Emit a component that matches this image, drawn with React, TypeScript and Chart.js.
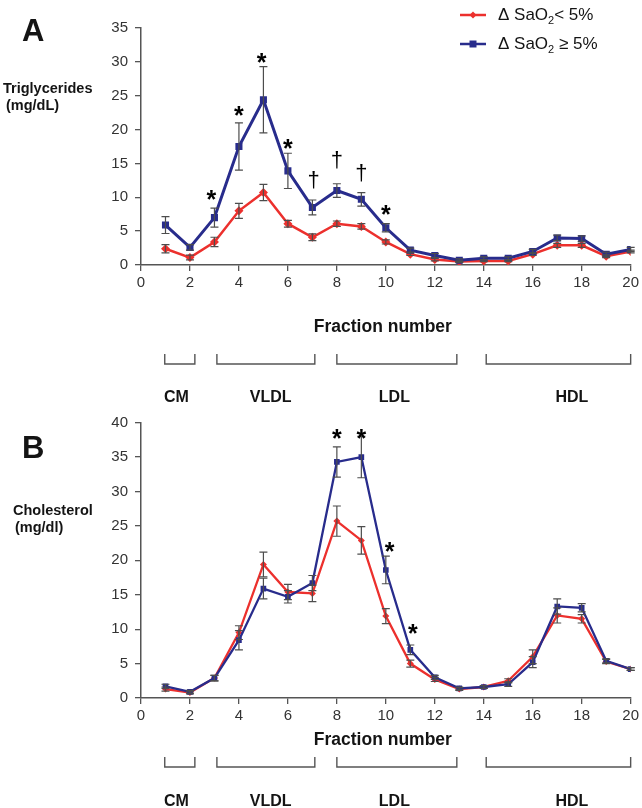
import React, { useEffect, useRef } from "react";
import { Chart, registerables } from "chart.js";

Chart.register(...registerables);

// ---------- data ----------
const fractions = [1, 2, 3, 4, 5, 6, 7, 8, 9, 10, 11, 12, 13, 14, 15, 16, 17, 18, 19, 20];
const xTickValues = [0, 2, 4, 6, 8, 10, 12, 14, 16, 18, 20];

const seriesNames = ["\u0394 SaO2< 5%", "\u0394 SaO2 \u2265 5%"];

// Panel A: triglycerides (mg/dL)
const tgLow = [2.4, 1.1, 3.4, 8.0, 10.7, 6.1, 4.1, 6.1, 5.7, 3.4, 1.6, 0.8, 0.5, 0.6, 0.6, 1.6, 2.9, 2.9, 1.3, 2.0];
const tgLowErr = [0.6, 0.35, 0.7, 1.1, 1.2, 0.5, 0.5, 0.4, 0.4, 0.3, 0.2, 0.2, 0.1, 0.1, 0.1, 0.2, 0.3, 0.3, 0.2, 0.2];
const tgHigh = [5.9, 2.6, 7.0, 17.5, 24.4, 13.9, 8.5, 11.0, 9.7, 5.5, 2.2, 1.4, 0.7, 1.0, 1.0, 2.0, 4.0, 3.9, 1.6, 2.3];
const tgHighErr = [1.25, 0.4, 1.4, 3.5, 4.9, 2.6, 1.1, 1.0, 1.0, 0.6, 0.3, 0.3, 0.2, 0.2, 0.2, 0.3, 0.4, 0.4, 0.3, 0.3];
const tgYTicks = [0, 5, 10, 15, 20, 25, 30, 35];
const tgMarkX = [2.87, 4, 4.93, 6, 7.05, 8, 9, 10];
const tgMarkY = [10.4, 22.7, 30.6, 17.8, 12.6, 15.5, 13.6, 8.1];
const tgMarkSymbols = ["*", "*", "*", "*", "\u2020", "\u2020", "\u2020", "*"];

// Panel B: cholesterol (mg/dl)
const cholLow = [1.3, 0.8, 2.9, 9.5, 19.4, 15.4, 15.2, 25.7, 22.9, 11.9, 5.0, 2.7, 1.3, 1.6, 2.5, 6.0, 12.0, 11.5, 5.3, 4.2];
const cholLowErr = [0.3, 0.2, 0.4, 1.0, 1.8, 1.1, 1.2, 2.2, 2.0, 1.1, 0.5, 0.3, 0.2, 0.2, 0.3, 1.0, 1.1, 0.6, 0.3, 0.2];
const cholHigh = [1.7, 0.9, 2.9, 8.4, 15.9, 14.7, 16.7, 34.3, 35.0, 18.6, 7.0, 3.0, 1.4, 1.6, 2.0, 5.2, 13.3, 13.1, 5.4, 4.2];
const cholHighErr = [0.3, 0.2, 0.4, 1.4, 1.5, 0.9, 1.1, 2.2, 3.0, 2.0, 0.7, 0.3, 0.2, 0.2, 0.3, 0.8, 1.1, 0.6, 0.3, 0.2];
const cholYTicks = [0, 5, 10, 15, 20, 25, 30, 35, 40];
const cholMarkX = [8, 9, 10.15, 11.1];
const cholMarkY = [38.4, 38.4, 22.0, 10.0];
const cholMarkSymbols = ["*", "*", "*", "*"];

// Lipoprotein groups under the x axis
const groupNames = ["CM", "VLDL", "LDL", "HDL"];
const groupStart = [0.97, 3.1, 8.0, 14.1];
const groupEnd = [2.2, 7.1, 12.9, 20.0];
const groupLabelX = [1.45, 5.3, 10.35, 17.6];

// ---------- styles ----------
const FONT = '"Liberation Sans", Arial, Helvetica, sans-serif';
const RED = "rgb(236, 48, 45)";
const BLUE = "rgb(40, 44, 140)";
const AXIS = "#555555";
const ERR = "#4d4d4d";
const TEXT = "#141414";

type Panel = {
  top: number;
  height: number;
  padTop: number;
  plotBottom: number;
  yMax: number;
  yTicks: number[];
  low: number[];
  lowErr: number[];
  high: number[];
  highErr: number[];
  markX: number[];
  markY: number[];
  markSym: string[];
  letter: string;
  letterY: number;
  yTitle: string[];
  yTitleX: number[];
  yTitleY: number[];
  titleOff: number;
  bracketTopOff: number;
  bracketBotOff: number;
  labelOff: number;
  legend: boolean;
  highWidth: number;
  lowWidth: number;
  highRadius: number;
  lowRadius: number;
};

function fillCentered(ctx: CanvasRenderingContext2D, text: string, x: number, y: number, font: string, align: CanvasTextAlign) {
  ctx.font = font;
  ctx.textAlign = align;
  ctx.textBaseline = "alphabetic";
  const m = ctx.measureText(text);
  ctx.fillText(text, x, y + (m.actualBoundingBoxAscent - m.actualBoundingBoxDescent) / 2);
}

function drawLegendText(ctx: CanvasRenderingContext2D, x: number, yc: number, label: string) {
  // label is like "Δ SaO2< 5%"; draw "2" as subscript
  const idx = label.indexOf("SaO2") + 3;
  const before = label.slice(0, idx);
  const after = label.slice(idx + 1);
  const mainFont = `17px ${FONT}`;
  const subFont = `11px ${FONT}`;
  ctx.fillStyle = TEXT;
  ctx.textAlign = "left";
  ctx.textBaseline = "alphabetic";
  ctx.font = mainFont;
  const base = yc + 6;
  ctx.fillText(before, x, base);
  let cx = x + ctx.measureText(before).width;
  ctx.font = subFont;
  ctx.fillText("2", cx, base + 4);
  cx += ctx.measureText("2").width;
  ctx.font = mainFont;
  ctx.fillText(after, cx, base);
}

function makePlugin(p: Panel) {
  return {
    id: "lipidAnnotations",
    afterDatasetsDraw(chart: any) {
      const { ctx, chartArea } = chart;
      const xs = chart.scales.x;
      const ys = chart.scales.y;
      ctx.save();
      // error bars
      ctx.strokeStyle = ERR;
      ctx.lineWidth = 1.2;
      const sets = [
        { v: p.low, e: p.lowErr },
        { v: p.high, e: p.highErr },
      ];
      sets.forEach((s) => {
        s.v.forEach((val, i) => {
          const px = xs.getPixelForValue(fractions[i]);
          const t = ys.getPixelForValue(val + s.e[i]);
          const b = ys.getPixelForValue(Math.max(0, val - s.e[i]));
          ctx.beginPath();
          ctx.moveTo(px, t);
          ctx.lineTo(px, b);
          ctx.moveTo(px - 4, t);
          ctx.lineTo(px + 4, t);
          ctx.moveTo(px - 4, b);
          ctx.lineTo(px + 4, b);
          ctx.stroke();
        });
      });
      // significance marks
      ctx.fillStyle = "#000";
      p.markX.forEach((mx, i) => {
        const sym = p.markSym[i];
        const font = sym === "*" ? `bold 25px ${FONT}` : `22px ${FONT}`;
        fillCentered(ctx, sym, xs.getPixelForValue(mx), ys.getPixelForValue(p.markY[i]), font, "center");
      });
      ctx.restore();
    },
    afterDraw(chart: any) {
      const { ctx, chartArea } = chart;
      const xs = chart.scales.x;
      const bottom = chartArea.bottom;
      ctx.save();
      ctx.fillStyle = TEXT;
      // panel letter
      fillCentered(ctx, p.letter, 22, p.letterY, `bold 31px ${FONT}`, "left");
      // y title
      p.yTitle.forEach((t, i) => {
        fillCentered(ctx, t, p.yTitleX[i], p.yTitleY[i], `bold 14.5px ${FONT}`, "left");
      });
      // x title
      fillCentered(ctx, "Fraction number", (chartArea.left + chartArea.right) / 2 - 3, bottom + p.titleOff, `bold 17.5px ${FONT}`, "center");
      // brackets
      ctx.strokeStyle = AXIS;
      ctx.lineWidth = 1.4;
      groupNames.forEach((g, i) => {
        const x0 = xs.getPixelForValue(groupStart[i]);
        const x1 = xs.getPixelForValue(groupEnd[i]);
        const yt = bottom + p.bracketTopOff;
        const yb = bottom + p.bracketBotOff;
        ctx.beginPath();
        ctx.moveTo(x0, yt);
        ctx.lineTo(x0, yb);
        ctx.lineTo(x1, yb);
        ctx.lineTo(x1, yt);
        ctx.stroke();
        ctx.fillStyle = TEXT;
        fillCentered(ctx, g, xs.getPixelForValue(groupLabelX[i]), bottom + p.labelOff, `bold 16px ${FONT}`, "center");
      });
      // legend
      if (p.legend) {
        const rows = [
          { color: RED, y: 15, style: "diamond", label: seriesNames[0] },
          { color: BLUE, y: 44, style: "square", label: seriesNames[1] },
        ];
        rows.forEach((r) => {
          ctx.strokeStyle = r.color;
          ctx.fillStyle = r.color;
          ctx.lineWidth = 2.5;
          ctx.beginPath();
          ctx.moveTo(460, r.y);
          ctx.lineTo(486, r.y);
          ctx.stroke();
          ctx.beginPath();
          if (r.style === "diamond") {
            ctx.moveTo(473, r.y - 3.5);
            ctx.lineTo(476.5, r.y);
            ctx.lineTo(473, r.y + 3.5);
            ctx.lineTo(469.5, r.y);
            ctx.closePath();
          } else {
            ctx.rect(469.5, r.y - 3.5, 7, 7);
          }
          ctx.fill();
          drawLegendText(ctx, 498, r.y - 1, r.label);
        });
      }
      ctx.restore();
    },
  };
}

function makeConfig(p: Panel): any {
  return {
    type: "line",
    data: {
      labels: fractions,
      datasets: [
        {
          label: seriesNames[1],
          data: fractions.map((f, i) => ({ x: f, y: p.high[i] })),
          borderColor: BLUE,
          backgroundColor: BLUE,
          borderWidth: p.highWidth,
          pointStyle: "rect",
          pointRadius: p.highRadius,
          pointBorderWidth: 0,
          tension: 0,
          order: 1,
        },
        {
          label: seriesNames[0],
          data: fractions.map((f, i) => ({ x: f, y: p.low[i] })),
          borderColor: RED,
          backgroundColor: RED,
          borderWidth: p.lowWidth,
          pointStyle: "rectRot",
          pointRadius: p.lowRadius,
          pointBorderWidth: 0,
          tension: 0,
          order: 2,
        },
      ],
    },
    options: {
      responsive: false,
      animation: false,
      events: [],
      layout: { padding: { left: 0, right: 8, top: p.padTop, bottom: 0 } },
      plugins: { legend: { display: false }, tooltip: { enabled: false } },
      scales: {
        x: {
          type: "linear",
          min: 0,
          max: 20,
          afterBuildTicks: (s: any) => {
            s.ticks = xTickValues.map((v) => ({ value: v }));
          },
          afterFit: (s: any) => {
            s.height = p.height - p.plotBottom;
          },
          ticks: { color: "#333", font: { family: FONT, size: 15 }, padding: 3, maxRotation: 0, autoSkip: false },
          grid: { drawOnChartArea: false, drawTicks: true, tickLength: 6, color: AXIS, lineWidth: 1.3 },
          border: { display: true, color: AXIS, width: 1.5 },
        },
        y: {
          type: "linear",
          min: 0,
          max: p.yMax,
          afterBuildTicks: (s: any) => {
            s.ticks = p.yTicks.map((v) => ({ value: v }));
          },
          afterFit: (s: any) => {
            s.width = 141;
          },
          ticks: { color: "#333", font: { family: FONT, size: 15 }, padding: 7, autoSkip: false },
          grid: { drawOnChartArea: false, drawTicks: true, tickLength: 6, color: AXIS, lineWidth: 1.3 },
          border: { display: true, color: AXIS, width: 1.5 },
        },
      },
    },
    plugins: [makePlugin(p)],
  };
}

const panelA: Panel = {
  top: 0,
  height: 404,
  padTop: 28,
  plotBottom: 265,
  yMax: 35,
  yTicks: tgYTicks,
  low: tgLow,
  lowErr: tgLowErr,
  high: tgHigh,
  highErr: tgHighErr,
  markX: tgMarkX,
  markY: tgMarkY,
  markSym: tgMarkSymbols,
  letter: "A",
  letterY: 30,
  yTitle: ["Triglycerides", "(mg/dL)"],
  yTitleX: [3, 6],
  yTitleY: [89, 106],
  titleOff: 60,
  bracketTopOff: 89,
  bracketBotOff: 99,
  labelOff: 131,
  legend: true,
  highWidth: 3,
  lowWidth: 2.5,
  highRadius: 5,
  lowRadius: 4.5,
};

const panelB: Panel = {
  top: 404,
  height: 404,
  padTop: 18.7,
  plotBottom: 294,
  yMax: 40,
  yTicks: cholYTicks,
  low: cholLow,
  lowErr: cholLowErr,
  high: cholHigh,
  highErr: cholHighErr,
  markX: cholMarkX,
  markY: cholMarkY,
  markSym: cholMarkSymbols,
  letter: "B",
  letterY: 42.5,
  yTitle: ["Cholesterol", "(mg/dl)"],
  yTitleX: [13, 15],
  yTitleY: [105, 124],
  titleOff: 40,
  bracketTopOff: 59,
  bracketBotOff: 69,
  labelOff: 102,
  legend: false,
  highWidth: 2.3,
  lowWidth: 2.3,
  highRadius: 4,
  lowRadius: 3.5,
};

function PanelChart({ panel }: { panel: Panel }) {
  const ref = useRef<HTMLCanvasElement | null>(null);
  useEffect(() => {
    if (!ref.current) return;
    const chart = new Chart(ref.current, makeConfig(panel));
    return () => chart.destroy();
  }, [panel]);
  return (
    <canvas
      ref={ref}
      width={642}
      height={panel.height}
      style={{ position: "absolute", left: 0, top: panel.top, width: 642, height: panel.height, display: "block" }}
    />
  );
}

export default function App() {
  return (
    <div style={{ position: "absolute", left: 0, top: 0, width: 642, height: 808, background: "#ffffff", overflow: "hidden" }}>
      <PanelChart panel={panelA} />
      <PanelChart panel={panelB} />
    </div>
  );
}
